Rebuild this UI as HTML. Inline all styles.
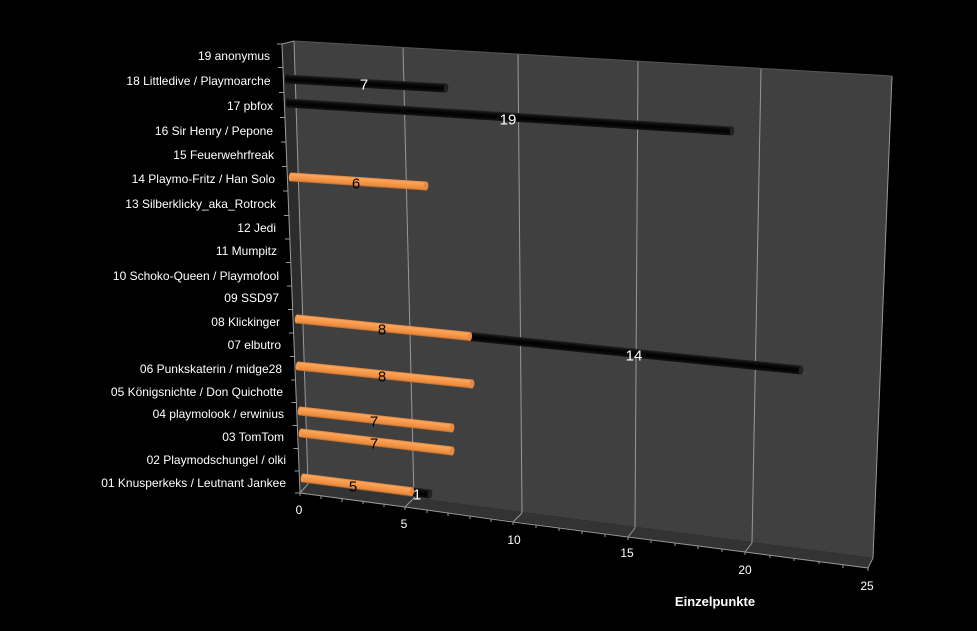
<!DOCTYPE html>
<html><head><meta charset="utf-8"><style>
html,body{margin:0;padding:0;background:#000;}
svg{display:block;}
text{font-family:"Liberation Sans",Arial,sans-serif;}
</style></head><body>
<svg width="977" height="631" viewBox="0 0 977 631" xmlns="http://www.w3.org/2000/svg">
<defs>
<linearGradient id="og" x1="0" y1="0" x2="0" y2="1">
<stop offset="0" stop-color="#d9823c"/>
<stop offset="0.18" stop-color="#fba75f"/>
<stop offset="0.5" stop-color="#f79646"/>
<stop offset="0.82" stop-color="#e98c40"/>
<stop offset="1" stop-color="#b3672a"/>
</linearGradient>
<linearGradient id="bg" x1="0" y1="0" x2="0" y2="1">
<stop offset="0" stop-color="#262626"/>
<stop offset="0.25" stop-color="#0c0c0c"/>
<stop offset="0.6" stop-color="#000"/>
<stop offset="1" stop-color="#141414"/>
</linearGradient>
<linearGradient id="lw" x1="0" y1="0" x2="0" y2="1">
<stop offset="0" stop-color="#2c2c2c"/>
<stop offset="0.85" stop-color="#2e2e2e"/>
<stop offset="1" stop-color="#383838"/>
</linearGradient>
</defs>
<rect width="977" height="631" fill="#000"/>
<polygon points="294,41 892,76 873,558 308,484" fill="#404040"/>
<polygon points="282,44 294,41 308,484 300,493" fill="url(#lw)"/>
<polygon points="308,484 873,558 868,568 300,493" fill="#333333"/>
<g stroke="#989898" stroke-width="1" fill="none">
<line x1="403" y1="47" x2="414" y2="498"/>
<line x1="518" y1="54" x2="522" y2="513"/>
<line x1="638" y1="61" x2="635" y2="528"/>
<line x1="761" y1="69" x2="752" y2="543"/>
<line x1="892" y1="76" x2="873" y2="558"/>
<line x1="294" y1="41" x2="308" y2="484"/>
</g>
<g stroke="#9a9a9a" stroke-width="1" fill="none">
<line x1="300" y1="493" x2="308" y2="484"/>
<line x1="405" y1="507" x2="414" y2="498"/>
<line x1="513" y1="522" x2="522" y2="513"/>
<line x1="628" y1="537" x2="635" y2="528"/>
<line x1="745" y1="552" x2="752" y2="543"/>
<line x1="868" y1="568" x2="873" y2="558"/>
<polyline points="300,493 405,507 513,522 628,537 745,552 868,568"/>
<line x1="282" y1="44" x2="300" y2="493"/>
<line x1="282" y1="44" x2="294" y2="41"/>
<line x1="294" y1="41" x2="892" y2="76" stroke="#555"/>
</g>
<g stroke="#9a9a9a" stroke-width="1">
<line x1="321" y1="496" x2="321" y2="499"/><line x1="342" y1="499" x2="342" y2="502"/><line x1="363" y1="501" x2="363" y2="504"/><line x1="384" y1="504" x2="384" y2="507"/><line x1="405" y1="507" x2="405" y2="510"/>
<line x1="427" y1="510" x2="427" y2="513"/><line x1="448" y1="513" x2="448" y2="516"/><line x1="470" y1="516" x2="470" y2="519"/><line x1="491" y1="519" x2="491" y2="522"/><line x1="513" y1="522" x2="513" y2="525"/>
<line x1="536" y1="525" x2="536" y2="528"/><line x1="559" y1="528" x2="559" y2="531"/><line x1="582" y1="531" x2="582" y2="534"/><line x1="605" y1="534" x2="605" y2="537"/><line x1="628" y1="537" x2="628" y2="540"/>
<line x1="651" y1="540" x2="651" y2="543"/><line x1="675" y1="543" x2="675" y2="546"/><line x1="698" y1="546" x2="698" y2="549"/><line x1="722" y1="549" x2="722" y2="552"/><line x1="745" y1="552" x2="745" y2="555"/>
<line x1="770" y1="555" x2="770" y2="558"/><line x1="794" y1="558" x2="794" y2="561"/><line x1="819" y1="561" x2="819" y2="564"/><line x1="843" y1="565" x2="843" y2="568"/><line x1="868" y1="568" x2="868" y2="571"/>
<line x1="300" y1="493" x2="300" y2="496"/>
</g>
<g stroke="#9a9a9a" stroke-width="1">
<line x1="277" y1="44" x2="282" y2="44"/>
<line x1="278" y1="67.5" x2="283" y2="67.5"/>
<line x1="279" y1="92.5" x2="284" y2="92.5"/>
<line x1="280" y1="117.5" x2="285" y2="117.5"/>
<line x1="281" y1="142" x2="286" y2="142"/>
<line x1="282" y1="166.5" x2="287" y2="166.5"/>
<line x1="283" y1="191" x2="288" y2="191"/>
<line x1="284" y1="215.5" x2="289" y2="215.5"/>
<line x1="285" y1="239" x2="290" y2="239"/>
<line x1="286" y1="262.5" x2="291" y2="262.5"/>
<line x1="287" y1="286" x2="292" y2="286"/>
<line x1="288" y1="309.5" x2="293" y2="309.5"/>
<line x1="289" y1="333" x2="294" y2="333"/>
<line x1="290" y1="356.5" x2="295" y2="356.5"/>
<line x1="291" y1="380" x2="296" y2="380"/>
<line x1="291.5" y1="402.5" x2="296.5" y2="402.5"/>
<line x1="292.5" y1="425.5" x2="297.5" y2="425.5"/>
<line x1="293.5" y1="448.5" x2="298.5" y2="448.5"/>
<line x1="294.5" y1="471" x2="299.5" y2="471"/>
<line x1="295" y1="493" x2="300" y2="493"/>
</g>
<g fill="#ffffff" font-size="12" text-anchor="end">
<text x="270" y="60">19 anonymus</text>
<text x="270.5" y="85">18 Littledive / Playmoarche </text>
<text x="273" y="110">17 pbfox</text>
<text x="273" y="135">16 Sir Henry / Pepone</text>
<text x="274" y="159">15 Feuerwehrfreak</text>
<text x="275" y="183">14 Playmo-Fritz / Han Solo</text>
<text x="276" y="208">13 Silberklicky_aka_Rotrock</text>
<text x="276" y="232">12 Jedi</text>
<text x="277" y="255">11 Mumpitz</text>
<text x="279" y="280">10 Schoko-Queen / Playmofool</text>
<text x="279" y="302">09 SSD97</text>
<text x="280" y="326">08 Klickinger</text>
<text x="281" y="349">07 elbutro</text>
<text x="282" y="373">06 Punkskaterin / midge28</text>
<text x="283" y="396">05 Königsnichte / Don Quichotte</text>
<text x="284" y="418">04 playmolook / erwinius</text>
<text x="284" y="441">03 TomTom</text>
<text x="286" y="464">02 Playmodschungel / olki</text>
<text x="286" y="487">01 Knusperkeks / Leutnant Jankee</text>
</g>
<g fill="#ffffff" font-size="12" text-anchor="middle">
<text x="299" y="514">0</text>
<text x="404" y="528">5</text>
<text x="514" y="544">10</text>
<text x="627" y="557">15</text>
<text x="745" y="574">20</text>
<text x="867" y="590">25</text>
</g>
<text x="715" y="606" fill="#ffffff" font-size="13" font-weight="bold" text-anchor="middle">Einzelpunkte</text>
<g transform="translate(287,79) rotate(3.24)">
<ellipse cx="0" cy="0" rx="2" ry="4.5" fill="#080808"/>
<rect x="0" y="-4.5" width="159.3" height="9" fill="url(#bg)"/>
<ellipse cx="159.3" cy="0" rx="2.3" ry="4.5" fill="#222"/>
</g>
<g transform="translate(288,103) rotate(3.61)">
<ellipse cx="0" cy="0" rx="2" ry="4.5" fill="#080808"/>
<rect x="0" y="-4.5" width="444.9" height="9" fill="url(#bg)"/>
<ellipse cx="444.9" cy="0" rx="2.3" ry="4.5" fill="#222"/>
</g>
<g transform="translate(291,177) rotate(3.81)">
<ellipse cx="0" cy="0" rx="2.2" ry="4.5" fill="#f59a50"/>
<rect x="0" y="-4.5" width="135.3" height="9" fill="url(#og)"/>
<ellipse cx="135.3" cy="0" rx="2.4" ry="4.5" fill="#e58a42"/>
</g>
<g transform="translate(297,319) rotate(5.78)">
<ellipse cx="0" cy="0" rx="2.2" ry="4.5" fill="#f59a50"/>
<rect x="0" y="-4.5" width="173.9" height="9" fill="url(#og)"/>
<rect x="173.9" y="-4.5" width="332.7" height="9" fill="url(#bg)"/>
<ellipse cx="173.9" cy="0" rx="2" ry="4.5" fill="#e58a42"/>
<ellipse cx="506.6" cy="0" rx="2.3" ry="4.5" fill="#222"/>
</g>
<g transform="translate(298,366) rotate(5.91)">
<ellipse cx="0" cy="0" rx="2.2" ry="4.5" fill="#f59a50"/>
<rect x="0" y="-4.5" width="174.9" height="9" fill="url(#og)"/>
<ellipse cx="174.9" cy="0" rx="2.4" ry="4.5" fill="#e58a42"/>
</g>
<g transform="translate(300,411) rotate(6.38)">
<ellipse cx="0" cy="0" rx="2.2" ry="4.5" fill="#f59a50"/>
<rect x="0" y="-4.5" width="152.9" height="9" fill="url(#og)"/>
<ellipse cx="152.9" cy="0" rx="2.4" ry="4.5" fill="#e58a42"/>
</g>
<g transform="translate(301,433) rotate(6.80)">
<ellipse cx="0" cy="0" rx="2.2" ry="4.5" fill="#f59a50"/>
<rect x="0" y="-4.5" width="152.1" height="9" fill="url(#og)"/>
<ellipse cx="152.1" cy="0" rx="2.4" ry="4.5" fill="#e58a42"/>
</g>
<g transform="translate(303,478) rotate(7.18)">
<ellipse cx="0" cy="0" rx="2.2" ry="4.5" fill="#f59a50"/>
<rect x="0" y="-4.5" width="109.9" height="9" fill="url(#og)"/>
<rect x="109.9" y="-4.5" width="18.1" height="9" fill="url(#bg)"/>
<ellipse cx="109.9" cy="0" rx="2" ry="4.5" fill="#e58a42"/>
<ellipse cx="128" cy="0" rx="2.3" ry="4.5" fill="#222"/>
</g>
<g font-size="15" text-anchor="middle">
<text x="364" y="89.5" fill="#ffffff">7</text>
<text x="508" y="124.5" fill="#ffffff">19</text>
<text x="356" y="188.5" fill="#000000">6</text>
<text x="382" y="334.5" fill="#000000">8</text>
<text x="634" y="360.5" fill="#ffffff">14</text>
<text x="382" y="381.5" fill="#000000">8</text>
<text x="374" y="426.5" fill="#000000">7</text>
<text x="374" y="448.5" fill="#000000">7</text>
<text x="353" y="491.5" fill="#000000">5</text>
<text x="417" y="499.5" fill="#ffffff">1</text>
</g>
</svg>
</body></html>
